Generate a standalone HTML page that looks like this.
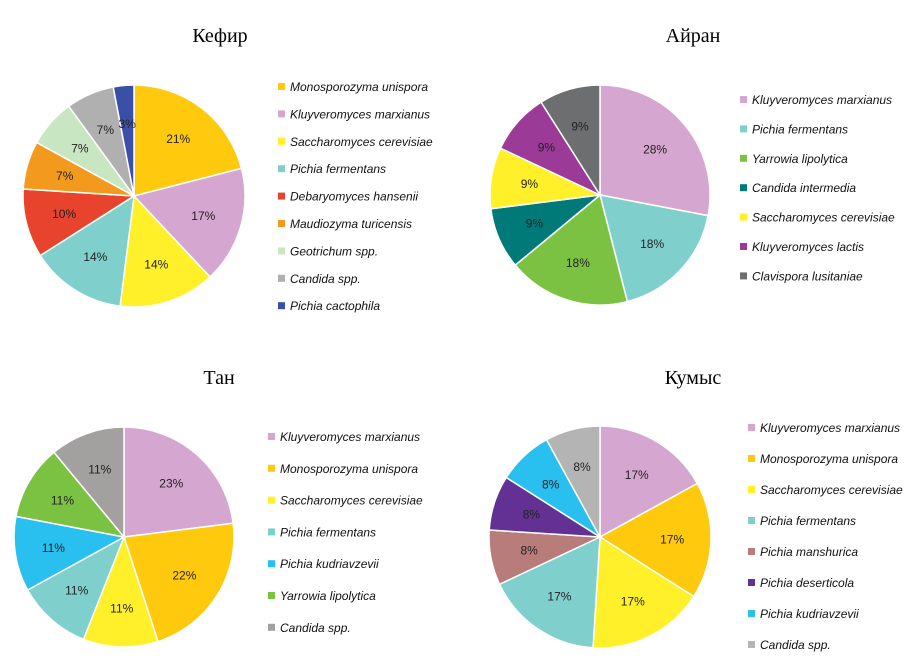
<!DOCTYPE html>
<html><head><meta charset="utf-8"><style>
body{margin:0;background:#fff;width:923px;height:663px;overflow:hidden}
svg{display:block}
.t{font-family:"Liberation Serif",serif;font-size:20px;fill:#000}
.lg{font-family:"Liberation Sans",sans-serif;font-size:12px;font-style:italic;fill:#111}
.pl{font-family:"Liberation Sans",sans-serif;font-size:12px;fill:#222}
</style></head><body>
<svg id="c" width="923" height="663"></svg>
<script>
const kefirLabels=["Monosporozyma unispora","Kluyveromyces marxianus"," Saccharomyces cerevisiae","Pichia fermentans","Debaryomyces hansenii","Maudiozyma turicensis","Geotrichum spp.","Candida spp.","Pichia cactophila"];
const kefirValues=[21,17,14,14,10,7,7,7,3];
const kefirColors=["#ffc90e","#d5a6d0","#fff02a","#7fd0cc","#e8432c","#f39a1e","#c9e6c3","#b0b0b0","#3a4fa8"];
const ayranLabels=["Kluyveromyces marxianus","Pichia fermentans","Yarrowia lipolytica","Candida intermedia","Saccharomyces cerevisiae","Kluyveromyces lactis","Clavispora lusitaniae"];
const ayranValues=[28,18,18,9,9,9,9];
const ayranColors=["#d5a6d0","#7fd0cc","#7cc242","#007a78","#fff02a","#9b3b97","#6d6e70"];
const tanLabels=["Kluyveromyces marxianus","Monosporozyma unispora","Saccharomyces cerevisiae"," Pichia fermentans","Pichia kudriavzevii","Yarrowia lipolytica","Candida spp."];
const tanValues=[23,22,11,11,11,11,11];
const tanColors=["#d5a6d0","#ffc90e","#fff02a","#7fd0cc","#29c0ef","#7cc242","#a3a0a0"];
const kumysLabels=["Kluyveromyces marxianus","Monosporozyma unispora","Saccharomyces cerevisiae","Pichia fermentans","Pichia manshurica","Pichia deserticola","Pichia kudriavzevii","Candida spp."];
const kumysValues=[17,17,17,17,8,8,8,8];
const kumysColors=["#d5a6d0","#ffc90e","#fff02a","#7fd0cc","#b87c7a","#633193","#29c0ef","#b4b4b4"];
const NS="http://www.w3.org/2000/svg";
const svg=document.getElementById('c');
function mk(tag,attrs,parent){const e=document.createElementNS(NS,tag);for(const k in attrs)e.setAttribute(k,attrs[k]);(parent||svg).appendChild(e);return e;}
function pie(name,title,tx,ty,cx,cy,r,vals,cols,labs,lx,ly,step){
  const g=mk('g',{});
  
  
  const t=mk('text',{x:tx,y:ty,'text-anchor':'middle',class:'t'},g);t.textContent=title;
  
  
  const tot=vals.reduce((a,b)=>a+b,0);let a=0;
  vals.forEach((v,i)=>{
    const a0=a/tot*2*Math.PI,a1=(a+v)/tot*2*Math.PI;a+=v;
    const x0=cx+r*Math.sin(a0),y0=cy-r*Math.cos(a0),x1=cx+r*Math.sin(a1),y1=cy-r*Math.cos(a1);
    const p=mk('path',{d:`M${cx},${cy}L${x0},${y0}A${r},${r} 0 ${a1-a0>Math.PI?1:0} 1 ${x1},${y1}Z`,fill:cols[i],stroke:'#fff','stroke-width':1.5},g);
    
    
    const am=(a0+a1)/2,lr=r*0.65;
    const tl=mk('text',{x:cx+lr*Math.sin(am),y:cy-lr*Math.cos(am)+4,'text-anchor':'middle',class:'pl'},g);
    tl.textContent=v+'%';
    
    
  });
  labs.forEach((l,i)=>{
    const y=ly+i*step;
    const s=mk('rect',{x:lx,y:y-4,width:7,height:7,fill:cols[i]},g);
    
    
    const tt=mk('text',{x:lx+12,y:y+4,class:'lg'},g);tt.textContent=l;
    
    
  });
}
pie('kefir','Кефир',220,42,134,196,111,kefirValues,kefirColors,kefirLabels,278,87,27.4);
pie('ayran','Айран',693,42,600,195,110,ayranValues,ayranColors,ayranLabels,740,100,29.4);
pie('tan','Тан',219,384,124,537,110,tanValues,tanColors,tanLabels,268,437,31.8);
pie('kumys','Кумыс',693,384,600,537,111,kumysValues,kumysColors,kumysLabels,748,428,31);
</script>
</body></html>
